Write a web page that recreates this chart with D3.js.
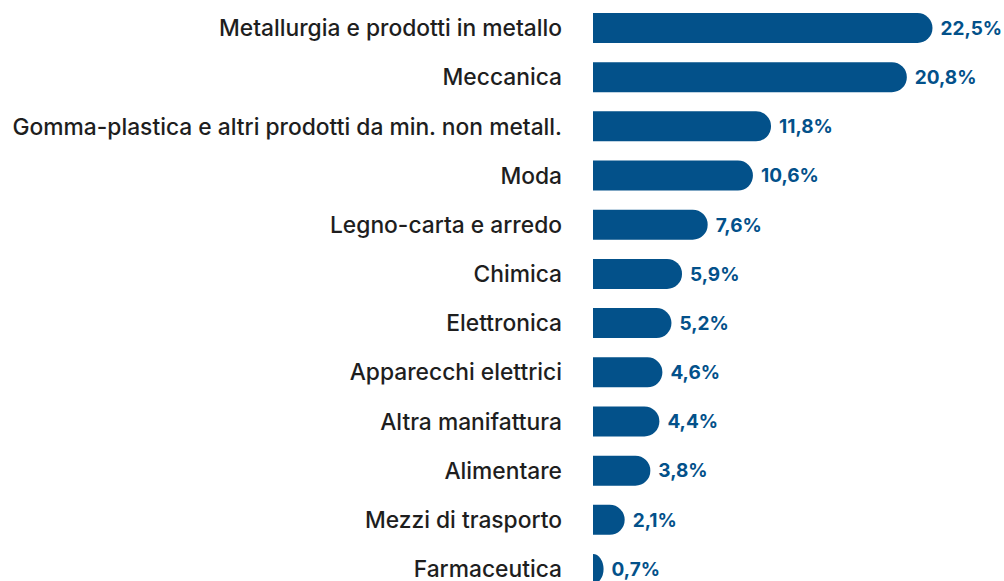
<!DOCTYPE html>
<html>
<head>
<meta charset="utf-8">
<script src="https://cdn.jsdelivr.net/npm/d3@7"></script>
<style>
  body { margin: 0; background: #fff; }
  svg { display: block; }
</style>
</head>
<body>
<script>
"use strict"
const w = 1004;
const h = 581;

const categories = [
	'Metallurgia e prodotti in metallo',
	'Meccanica',
	'Gomma-plastica e altri prodotti da min. non metall.',
	'Moda',
	'Legno-carta e arredo',
	'Chimica',
	'Elettronica',
	'Apparecchi elettrici',
	'Altra manifattura',
	'Alimentare',
	'Mezzi di trasporto',
	'Farmaceutica'
];
const values = [22.5, 20.8, 11.8, 10.6, 7.6, 5.9, 5.2, 4.6, 4.4, 3.8, 2.1, 0.7];
const valueLabels = ['22,5%', '20,8%', '11,8%', '10,6%', '7,6%', '5,9%', '5,2%', '4,6%', '4,4%', '3,8%', '2,1%', '0,7%'];

const barColor = '#03518a';
const textColor = '#1e1e1e';
const barH = 30;

const mySvg = d3.select('body')
	.append('svg')
	.attr('width', w)
	.attr('height', h);

const xScale = d3.scaleLinear()
	.domain([0, 22.5])
	.range([593, 932.5]);

const yScale = d3.scalePoint()
	.domain(categories)
	.range([28, 569]);

// bar with flat left side and round right end
function barPath(v, cat) {
	const x0 = xScale(0);
	const x1 = xScale(v);
	const y0 = yScale(cat) - barH / 2;
	const r = barH / 2;
	const rx = Math.min(r, x1 - x0);
	return 'M' + x0 + ',' + y0
		+ 'H' + (x1 - rx)
		+ 'A' + rx + ',' + r + ' 0 0 1 ' + (x1 - rx) + ',' + (y0 + barH)
		+ 'H' + x0 + 'Z';
}

mySvg.selectAll('path.bar')
	.data(categories)
	.enter()
	.append('path')
	.attr('class', 'bar')
	.attr('d', (d, i) => barPath(values[i], d))
	.attr('fill', barColor);

mySvg.selectAll('text.cat')
	.data(categories)
	.enter()
	.append('text')
	.attr('class', 'cat')
	.attr('x', 562)
	.attr('y', d => yScale(d))
	.attr('dy', '0.36em')
	.attr('text-anchor', 'end')
	.style('font-family', 'Inter, sans-serif')
	.style('font-size', '22.8px')
	.style('font-weight', 500)
	.style('fill', textColor)
	.text(d => d);

mySvg.selectAll('text.val')
	.data(categories)
	.enter()
	.append('text')
	.attr('class', 'val')
	.attr('x', (d, i) => xScale(values[i]) + 8)
	.attr('y', d => yScale(d))
	.attr('dy', '0.36em')
	.style('font-family', 'Inter, sans-serif')
	.style('font-size', '19px')
	.style('font-weight', 700)
	.style('fill', barColor)
	.text((d, i) => valueLabels[i]);
</script>
</body>
</html>
